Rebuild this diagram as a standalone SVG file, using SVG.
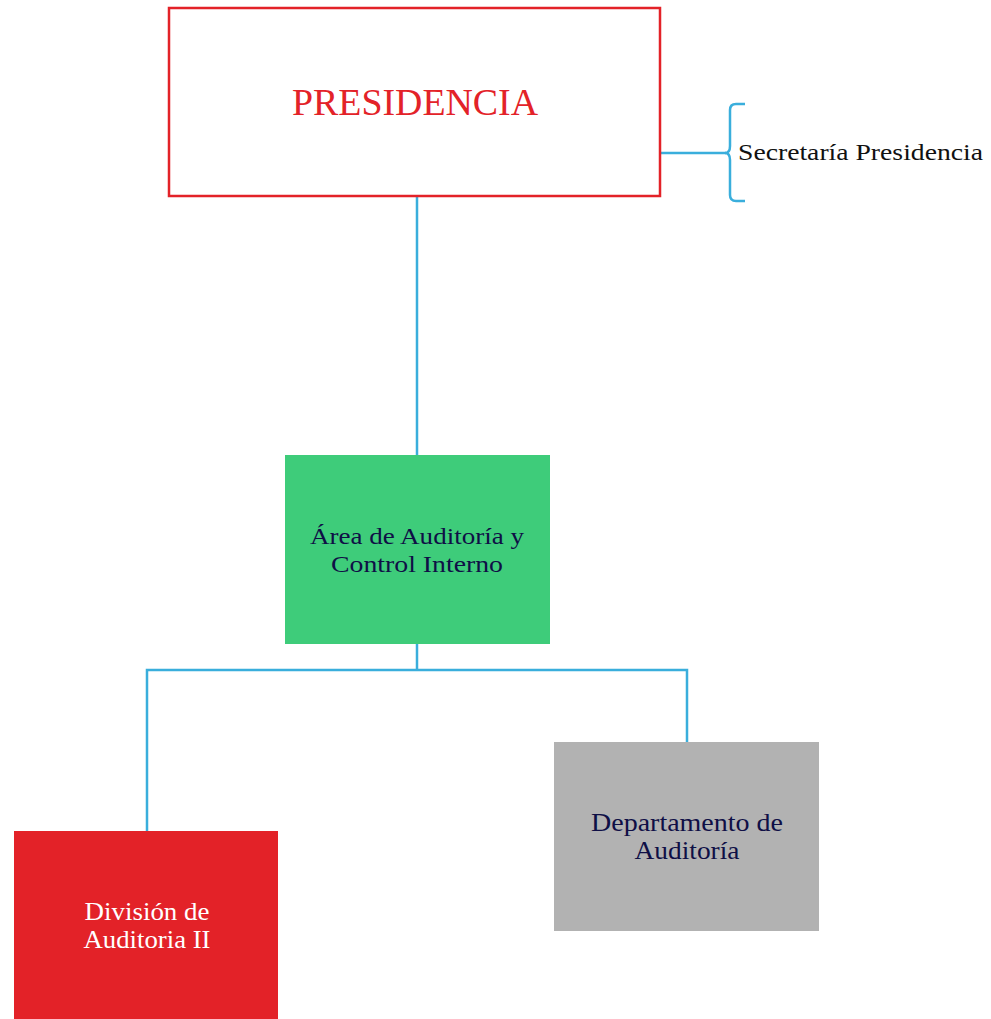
<svg xmlns="http://www.w3.org/2000/svg" width="991" height="1019" viewBox="0 0 991 1019">
<style>
.t{font-family:"Liberation Serif","DejaVu Serif",serif;text-anchor:middle}
.c{fill:none;stroke:#3aaedc;stroke-width:2.5}
.n{fill:#0f0f46;font-size:24px}
</style>
<rect width="991" height="1019" fill="#ffffff"/>
<g id="connectors">
<line class="c" x1="417" y1="197" x2="417" y2="455"/>
<line class="c" x1="661" y1="153" x2="726" y2="153"/>
<path class="c" d="M745,104 H736 Q730,104 730,110 V146 Q730,153 725,153 Q730,153 730,160 V195 Q730,201 736,201 H745"/>
<line class="c" x1="417" y1="644" x2="417" y2="670"/>
<polyline class="c" points="147,831 147,670 687,670 687,742"/>
</g>
<g id="presidencia">
<rect x="169" y="8" width="491" height="188" fill="#ffffff" stroke="#e32228" stroke-width="2.5"/>
<text class="t" x="415" y="115" font-size="38" fill="#e32228" textLength="246" lengthAdjust="spacingAndGlyphs">PRESIDENCIA</text>
</g>
<g id="secretaria">
<text x="738" y="160" font-family="Liberation Serif, DejaVu Serif, serif" font-size="23" fill="#111111" textLength="245" lengthAdjust="spacingAndGlyphs">Secretaría Presidencia</text>
</g>
<g id="area">
<rect x="285" y="455" width="265" height="189" fill="#3ecc7a"/>
<text class="t n" x="417" y="544" textLength="214" lengthAdjust="spacingAndGlyphs">Área de Auditoría y</text>
<text class="t n" x="417" y="572" textLength="172" lengthAdjust="spacingAndGlyphs">Control Interno</text>
</g>
<g id="division">
<rect x="14" y="831" width="264" height="188" fill="#e32228"/>
<text class="t" x="147" y="920" font-size="26" fill="#ffffff" textLength="125" lengthAdjust="spacingAndGlyphs">División de</text>
<text class="t" x="147" y="948" font-size="26" fill="#ffffff" textLength="127" lengthAdjust="spacingAndGlyphs">Auditoria II</text>
</g>
<g id="departamento">
<rect x="554" y="742" width="265" height="189" fill="#b2b2b2"/>
<text class="t n" x="687" y="831" font-size="25" textLength="192" lengthAdjust="spacingAndGlyphs" style="font-size:25px">Departamento de</text>
<text class="t n" x="687" y="859" textLength="105" lengthAdjust="spacingAndGlyphs" style="font-size:25px">Auditoría</text>
</g>
</svg>
